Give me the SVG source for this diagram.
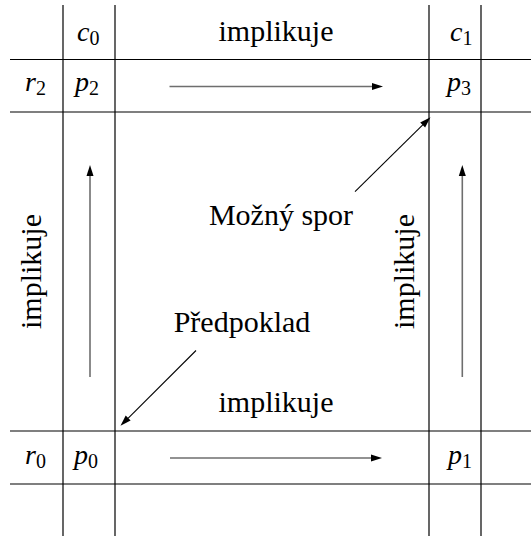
<svg xmlns="http://www.w3.org/2000/svg" width="531" height="536" viewBox="0 0 531 536">
<rect width="531" height="536" fill="#fff"/>
<g id="grid" stroke="#000" stroke-width="1.2">
<line x1="63" y1="5" x2="63" y2="536"/>
<line x1="115" y1="5" x2="115" y2="536"/>
<line x1="429" y1="5" x2="429" y2="536"/>
<line x1="481" y1="5" x2="481" y2="536"/>
<line x1="10" y1="59.5" x2="531" y2="59.5"/>
<line x1="10" y1="112" x2="531" y2="112"/>
<line x1="10" y1="431" x2="531" y2="431"/>
<line x1="10" y1="484" x2="531" y2="484"/>
</g>
<g id="c0"><text x="77" y="41" font-family="Liberation Serif" font-size="28" font-style="italic">c<tspan font-style="normal" font-size="20" dy="4">0</tspan></text></g>
<g id="c1"><text x="450" y="41" font-family="Liberation Serif" font-size="28" font-style="italic">c<tspan font-style="normal" font-size="20" dy="4">1</tspan></text></g>
<g id="r2"><text x="25" y="91" font-family="Liberation Serif" font-size="28" font-style="italic">r<tspan font-style="normal" font-size="20" dy="4">2</tspan></text></g>
<g id="r0"><text x="25" y="464" font-family="Liberation Serif" font-size="28" font-style="italic">r<tspan font-style="normal" font-size="20" dy="4">0</tspan></text></g>
<g id="p2"><text x="75" y="91" font-family="Liberation Serif" font-size="28" font-style="italic">p<tspan font-style="normal" font-size="20" dy="4">2</tspan></text></g>
<g id="p3"><text x="447" y="91" font-family="Liberation Serif" font-size="28" font-style="italic">p<tspan font-style="normal" font-size="20" dy="4">3</tspan></text></g>
<g id="p0"><text x="74" y="464" font-family="Liberation Serif" font-size="28" font-style="italic">p<tspan font-style="normal" font-size="20" dy="4">0</tspan></text></g>
<g id="p1"><text x="448" y="464" font-family="Liberation Serif" font-size="28" font-style="italic">p<tspan font-style="normal" font-size="20" dy="4">1</tspan></text></g>
<g id="impl-top"><text x="276" y="41" font-family="Liberation Serif" font-size="30" text-anchor="middle">implikuje</text></g>
<g id="impl-bottom"><text x="276" y="411.5" font-family="Liberation Serif" font-size="30" text-anchor="middle">implikuje</text></g>
<g id="impl-left"><text transform="translate(40.5,271.5) rotate(-90)" font-family="Liberation Serif" font-size="30" text-anchor="middle">implikuje</text></g>
<g id="impl-right"><text transform="translate(414,271.5) rotate(-90)" font-family="Liberation Serif" font-size="30" text-anchor="middle">implikuje</text></g>
<g id="mozny-spor"><text x="281" y="225" font-family="Liberation Serif" font-size="30" text-anchor="middle">Možný spor</text></g>
<g id="predpoklad"><text x="242" y="331.5" font-family="Liberation Serif" font-size="30" text-anchor="middle">Předpoklad</text></g>
<g id="connectors">
<g stroke="#6e6e6e" stroke-width="1.6">
<line x1="169.5" y1="86.5" x2="373" y2="86.5"/>
<line x1="170" y1="458" x2="372" y2="458"/>
<line x1="90" y1="377" x2="90" y2="175"/>
<line x1="462.3" y1="377" x2="462.3" y2="175"/>
</g>
<g stroke="#000" stroke-width="1.1">
<line x1="355" y1="191.7" x2="423" y2="124.7"/>
<line x1="196" y1="350.5" x2="128" y2="418.3"/>
</g>
<g fill="#000">
<polygon points="383,86.5 372,83 372,90"/>
<polygon points="382,458 371,454.5 371,461.5"/>
<polygon points="90,165 86.5,176 93.5,176"/>
<polygon points="462.3,165 458.8,176 465.8,176"/>
<polygon points="430.5,117.3 420.2,122.5 425.1,127.5"/>
<polygon points="120.5,425.8 125.7,415.6 130.6,420.5"/>
</g>
</g>
</svg>
